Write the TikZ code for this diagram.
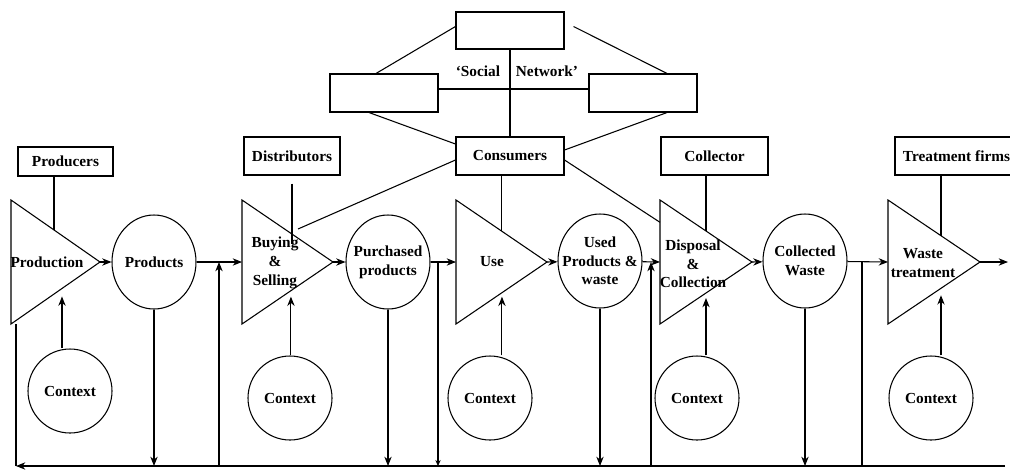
\documentclass[tikz,border=0pt]{standalone}
\usepackage{fontspec}
\setmainfont{Liberation Serif}
\usetikzlibrary{calc}
\usetikzlibrary{arrows.meta}
\usetikzlibrary{shapes.geometric}

\begin{document}
\begin{tikzpicture}[x=0.75pt,y=-0.75pt,>={Stealth[length=7pt,width=5.5pt]},line width=0.8pt,
        font=\fontsize{11.5}{14}\selectfont\bfseries,
        actor/.style={draw,inner sep=0,minimum width=81pt,minimum height=28.5pt},
        bubble/.style={draw,ellipse,inner sep=0,minimum width=63pt,minimum height=70.5pt},
        ctxbub/.style={draw,circle,inner sep=0,minimum size=63pt},
        txt/.style={align=center,inner sep=0}]
        \useasboundingbox (0,0) rectangle (1010,469);

        % Stages (triangles), corners and pins on the edges
        \foreach \n/\x/\w/\p/\q in {prod/11/89/0.483/0.573, buy/242/91/0.538/0.538, use/456/91/0.505/0.505, disp/660/92/0.5/0.5, treat/888/92/0.576/0.576} {
            \draw (\x,200) coordinate (\n-t) -- (\x+\w,262) coordinate (\n-a) -- (\x,324) coordinate (\n-b) -- cycle;
            \coordinate (\n-l) at (\x,262); % Entry point
            \coordinate (\n-tp) at ($(\n-t)!\p!(\n-a)$); % Pin on upper edge
            \coordinate (\n-bp) at ($(\n-b)!\q!(\n-a)$); % Pin on lower edge
        }
        \node[txt] (prod-txt) at (47,262) {Production};
        \node[txt] (buy-txt) at (275,263) {Buying\\\&\\Selling};
        \node[txt] (use-txt) at (492,262) {Use};
        \node[txt] (disp-txt) at (693,264) {Disposal\\\&\\Collection};
        \node[txt] (treat-txt) at (923,263) {Waste\\treatment};

        % Flows (circles)
        \node[bubble] (products) at (154,262) {};
        \node[txt] (products-txt) at (products) {Products};
        \node[bubble] (purchased) at (388,262) {};
        \node[txt] (purchased-txt) at (purchased) {Purchased\\products};
        \node[bubble] (used) at (600,261) {};
        \node[txt] (used-txt) at (used) {Used\\Products \&\\waste};
        \node[bubble] (collected) at (805,261) {};
        \node[txt] (collected-txt) at (collected) {Collected\\Waste};

        % Context circles
        \node[ctxbub] (prod-ctx) at (70,391) {Context};
        \node[ctxbub] (buy-ctx) at (290,398) {Context};
        \node[ctxbub] (use-ctx) at (490,398) {Context};
        \node[ctxbub] (disp-ctx) at (697,398) {Context};
        \node[ctxbub] (treat-ctx) at (931,398) {Context};

        % Actors
        \node[actor,minimum width=71.25pt,minimum height=21.75pt] (producers) at (65.5,161.5) {Producers};
        \node[actor,minimum width=72pt] (distributors) at (292,156) {Distributors};
        \node[actor] (consumers) at (510,156) {Consumers};
        \node[actor,minimum width=80.25pt] (collector) at (714.5,156) {Collector};
        \node[actor,minimum width=92.25pt] (treaters) at (956.5,156) {Treatment firms};

        % Social network
        \node[actor,minimum height=27.75pt] (net-top) at (510,30.5) {};
        \node[actor] (net-left) at (384,93) {};
        \node[actor] (net-right) at (643,93) {};
        \node[txt] (social) at (478,71) {‘Social};
        \node[txt] (network) at (547,71) {Network’};
        \draw ([shift={(0,-4)}]net-top.west) -- ([shift={(-8,0)}]net-left.north);
        \draw ([shift={(9,-4)}]net-top.east) -- ([shift={(24,0)}]net-right.north);
        \draw ([shift={(0,-4)}]net-left.east) -- ([shift={(0,-4)}]net-right.west);
        \draw (net-top.south) -- (consumers.north);
        \draw ([shift={(-15,0)}]net-left.south) -- ([shift={(0,-12)}]consumers.west);
        \draw ([shift={(24,0)}]net-right.south) -- ([shift={(0,-6)}]consumers.east);

        % Actors to stages
        \coordinate (c-buy) at (298,229);
        \draw ([shift={(0,4)}]consumers.west) -- (c-buy);
        \draw ([shift={(0,4)}]consumers.east) -- ($(disp-t)!0.18!(disp-b)$);
        \draw (use-tp) -- (use-tp |- consumers.south);
        \draw (prod-tp) -- (prod-tp |- producers.south);
        \draw ([yshift=-6pt]distributors.south) -- ++(0,60);
        \draw (disp-tp) -- (disp-tp |- collector.south);
        \draw (treat-tp) -- (treat-tp |- treaters.south);

        % Main chain
        \coordinate (out) at (1008,262);
        \draw[->] (prod-a) -- (products);
        \draw[->] (products) -- (buy-l);
        \draw[->] (buy-a) -- (purchased);
        \draw[->] (purchased) -- (use-l);
        \draw[->] (use-a) -- (used);
        \draw[->] (used) -- (disp-l);
        \draw[->] (disp-a) -- (collected);
        \draw[->] (collected) -- (treat-l);
        \draw[->] (treat-a) -- (out);

        % Feedback line
        \coordinate (fb-r) at (1005,466);
        \coordinate (fb-l) at (16,466);
        \draw[->] (fb-r) -- (fb-l);
        \draw (fb-l) -- (fb-l |- prod-b);
        \draw[->] (products.south) -- (products.south |- fb-l);
        \draw[->] (purchased.south) -- (purchased.south |- fb-l);
        \draw[->] (used.south) -- (used.south |- fb-l);
        \draw[->] (collected.south) -- (collected.south |- fb-l);
        \coordinate (j1) at (219,262);
        \coordinate (j2) at (438,262);
        \coordinate (j3) at (651,262);
        \coordinate (j4) at (862,262);
        \draw[->] (j1 |- fb-l) -- (j1);
        \draw[-{Stealth[length=4.5pt,width=4pt]}] (j2) -- (j2 |- fb-l);
        \draw[->] (j3 |- fb-l) -- (j3);
        \draw (j4 |- fb-l) -- (j4);

        % Context arrows
        \foreach \n/\g in {prod/8, buy/6, use/4, disp/5, treat/7}
            \draw[->] (\n-ctx.north -| \n-bp) -- ([shift={(0,\g)}]\n-bp);
    \end{tikzpicture}
\end{document}
